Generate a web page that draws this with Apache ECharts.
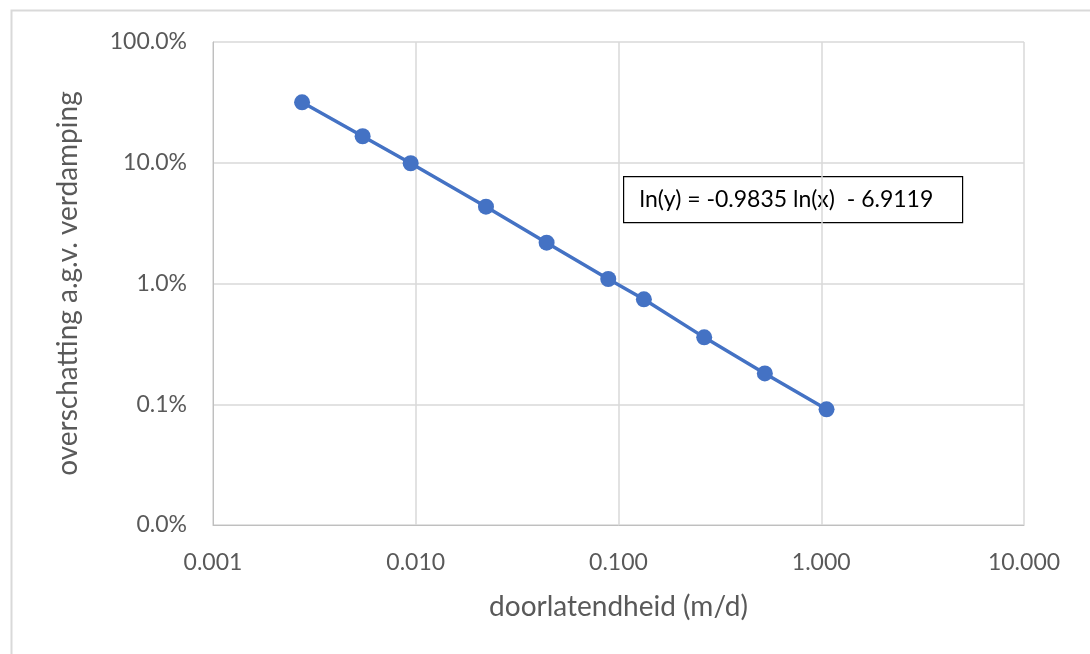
<!DOCTYPE html>
<html>
<head>
<meta charset="utf-8">
<script src="https://cdn.jsdelivr.net/npm/echarts@6/dist/echarts.min.js"></script>
<style>
  html, body { margin: 0; padding: 0; background: #fff; }
  #chart { width: 1090px; height: 654px; }
</style>
</head>
<body>
<div id="chart"></div>
<script>
// doorlatendheid (m/d) en overschatting (fractie)
var doorlatendheid = [0.00275, 0.00547, 0.00944, 0.0222, 0.0442, 0.0890, 0.1334, 0.2647, 0.527, 1.062];
var overschatting = [0.3167, 0.1658, 0.0990, 0.04325, 0.02178, 0.01089, 0.00740, 0.00358, 0.00180, 0.000908];
var vergelijking = 'ln(y) = -0.9835 ln(x)  - 6.9119';

var font = 'Lato, "Open Sans", sans-serif';
var labelColor = '#595959';

var points = [];
for (var i = 0; i < doorlatendheid.length; i++) {
    points.push([doorlatendheid[i], overschatting[i]]);
}

var myChart = echarts.init(document.getElementById('chart'));
var option = {
    animation: false,
    backgroundColor: '#fff',
    textStyle: { fontFamily: font },
    grid: {
        left: 213,
        top: 42,
        right: 66,
        bottom: 129,
        containLabel: false
    },
    xAxis: {
        type: 'log',
        logBase: 10,
        min: 0.001,
        max: 10,
        name: 'doorlatendheid (m/d)',
        nameLocation: 'middle',
        nameGap: 68,
        nameTextStyle: { fontSize: 28, color: labelColor, fontFamily: font },
        axisLine: { lineStyle: { color: '#bfbfbf', width: 1 } },
        axisTick: { show: false },
        axisLabel: {
            fontSize: 23,
            color: labelColor,
            margin: 26,
            formatter: function (v) { return v.toFixed(3); }
        },
        splitLine: { show: true, lineStyle: { color: '#d9d9d9', width: 1.5 } }
    },
    yAxis: {
        type: 'log',
        logBase: 10,
        min: 0.0001,
        max: 1,
        name: 'overschatting a.g.v. verdamping',
        nameLocation: 'middle',
        nameGap: 131,
        nameTextStyle: { fontSize: 28, color: labelColor, fontFamily: font },
        axisLine: { show: true, lineStyle: { color: '#bfbfbf', width: 1 } },
        axisTick: { show: false },
        axisLabel: {
            fontSize: 23,
            color: labelColor,
            margin: 26,
            formatter: function (v) { return (v * 100).toFixed(1) + '%'; }
        },
        splitLine: { show: true, lineStyle: { color: '#d9d9d9', width: 1.5 } }
    },
    series: [{
        type: 'line',
        data: points,
        symbol: 'circle',
        symbolSize: 16,
        lineStyle: { color: '#4472c4', width: 3.5 },
        itemStyle: { color: '#4472c4' },
        z: 5
    }],
    graphic: [
        {
            type: 'rect',
            left: 9,
            top: 8,
            shape: { width: 1100, height: 700 },
            style: { fill: 'none', stroke: '#d9d9d9', lineWidth: 2 },
            silent: true,
            z: -1
        },
        {
            type: 'group',
            left: 623,
            top: 176,
            z: 10,
            children: [
                {
                    type: 'rect',
                    shape: { x: 0, y: 0, width: 339, height: 46 },
                    style: { fill: '#fff', stroke: '#000', lineWidth: 1.2 }
                },
                {
                    type: 'text',
                    x: 16,
                    y: 23,
                    style: {
                        text: vergelijking,
                        font: '23px ' + font,
                        fill: '#000',
                        verticalAlign: 'middle'
                    }
                }
            ]
        }
    ]
};
myChart.setOption(option);
</script>
</body>
</html>
